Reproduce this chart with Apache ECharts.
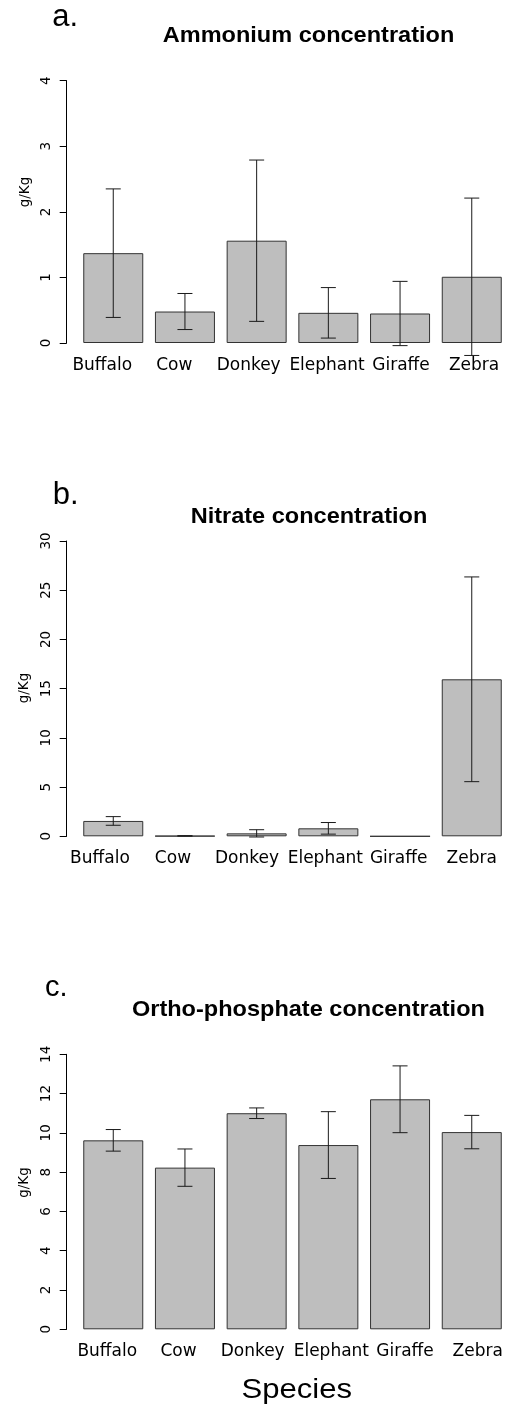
<!DOCTYPE html>
<html>
<head>
<meta charset="utf-8">
<script src="https://cdn.jsdelivr.net/npm/echarts@6/dist/echarts.min.js"></script>
<style>
html,body{margin:0;padding:0;background:#fff;}
#chart{width:506px;height:1408px;}
</style>
</head>
<body>
<div id="chart"></div>
<script>
// ---- data ----
const species = ['Buffalo', 'Cow', 'Donkey', 'Elephant', 'Giraffe', 'Zebra'];
const ammoniumMean = [1.37, 0.48, 1.56, 0.46, 0.45, 1.01];
const ammoniumErr  = [0.98, 0.275, 1.23, 0.385, 0.49, 1.2];
const nitrateMean  = [1.56, 0.04, 0.30, 0.81, 0.0, 15.95];
const nitrateErr   = [0.44, 0.02, 0.37, 0.59, 0.0, 10.4];
const phosphateMean = [9.62, 8.23, 11.0, 9.38, 11.71, 10.04];
const phosphateErr  = [0.55, 0.95, 0.27, 1.7, 1.7, 0.85];
const yTicksA = [0, 1, 2, 3, 4];
const yTicksB = [0, 5, 10, 15, 20, 25, 30];
const yTicksC = [0, 2, 4, 6, 8, 10, 12, 14];
const panelTitles = ['Ammonium concentration', 'Nitrate concentration', 'Ortho-phosphate concentration'];
const panelLetters = ['a.', 'b.', 'c.'];
const yName = 'g/Kg';
const xName = 'Species';

// ---- layout / style (not data) ----
const GRID_LEFT = 77.4, GRID_W = 430.2;
const panels = [
  {top: 80.7, height: 262.3, ticks: yTicksA, mean: ammoniumMean, err: ammoniumErr,
   labelShift: [-11, -10.7, -8, -1.3, 1, 2.3],
   letter: {x: 52.3, y: 17.5, size: 31}, title: {x: 308.5, y: 36}, yname: {x: 25.5, y: 192}},
  {top: 541, height: 295.3, ticks: yTicksB, mean: nitrateMean, err: nitrateErr,
   labelShift: [-13.3, -12, -9.7, -3, -1.4, 0],
   letter: {x: 52.7, y: 495.5, size: 31}, title: {x: 309, y: 517.3}, yname: {x: 24, y: 688}},
  {top: 1054.3, height: 275, ticks: yTicksC, mean: phosphateMean, err: phosphateErr,
   labelShift: [-6, -6.4, -4, 3, 5, 6],
   letter: {x: 45, y: 988, size: 29}, title: {x: 308.4, y: 1010.3}, yname: {x: 24, y: 1182.5}}
];
const FONT = 'DejaVu Sans';
const BAR_FILL = '#bebebe', BAR_EDGE = '#333333', ERR_COLOR = '#1a1a1a';

function errRender(params, api) {
  const x = api.value(0), lo = api.value(1), hi = api.value(2);
  if (hi - lo <= 0) return null;
  const a = api.coord([x, hi]), b = api.coord([x, lo]);
  const w = 7.5;
  const st = {stroke: ERR_COLOR, lineWidth: 1};
  return {type: 'group', children: [
    {type: 'line', shape: {x1: a[0], y1: a[1], x2: b[0], y2: b[1]}, style: st},
    {type: 'line', shape: {x1: a[0] - w, y1: a[1], x2: a[0] + w, y2: a[1]}, style: st},
    {type: 'line', shape: {x1: b[0] - w, y1: b[1], x2: b[0] + w, y2: b[1]}, style: st}
  ]};
}

const grids = [], xAxes = [], yAxes = [], series = [], graphics = [];
panels.forEach((p, k) => {
  grids.push({left: GRID_LEFT, width: GRID_W, top: p.top, height: p.height,
              containLabel: false, outerBoundsMode: 'none'});
  const rich = {};
  p.labelShift.forEach((dx, i) => {
    rich['s' + i] = {fontFamily: FONT, fontSize: 17, color: '#000',
      padding: [0, Math.max(0, -2 * dx), 0, Math.max(0, 2 * dx)]};
  });
  xAxes.push({type: 'category', gridIndex: k, data: species,
    axisLine: {show: false}, axisTick: {show: false}, splitLine: {show: false},
    axisLabel: {interval: 0, margin: 14, fontFamily: FONT, fontSize: 17, color: '#000',
      hideOverlap: false,
      formatter: (v, i) => '{s' + i + '|' + v + '}', rich: rich}});
  const t = p.ticks;
  yAxes.push({type: 'value', gridIndex: k, min: t[0], max: t[t.length - 1],
    interval: t[1] - t[0], offset: 10.7,
    axisLine: {show: true, lineStyle: {color: '#000', width: 1}},
    axisTick: {show: true, length: 7, lineStyle: {color: '#000', width: 1}},
    splitLine: {show: false},
    axisLabel: {rotate: 90, margin: 13, fontFamily: FONT, fontSize: 13.5, color: '#000'}});
  series.push({type: 'bar', xAxisIndex: k, yAxisIndex: k, data: p.mean, barWidth: 60,
    itemStyle: {color: BAR_FILL, borderColor: BAR_EDGE, borderWidth: 1},
    silent: true, animation: false});
  series.push({type: 'custom', xAxisIndex: k, yAxisIndex: k, clip: false,
    data: p.mean.map((m, i) => [i, m - p.err[i], m + p.err[i]]),
    renderItem: errRender, silent: true, animation: false, z: 5});
  graphics.push({type: 'text', x: p.letter.x, y: p.letter.y,
    style: {text: panelLetters[k], x: 0, y: 0, fontFamily: 'Liberation Sans', fontSize: p.letter.size,
      fill: '#000', align: 'left', verticalAlign: 'middle', textAlign: 'left', textVerticalAlign: 'middle'}});
  graphics.push({type: 'text', x: p.title.x, y: p.title.y, scaleX: 1.1,
    style: {text: panelTitles[k], x: 0, y: 0, fontFamily: 'Liberation Sans', fontWeight: 'bold',
      fontSize: 21.4, fill: '#000', align: 'center', verticalAlign: 'middle',
      textAlign: 'center', textVerticalAlign: 'middle'}});
  graphics.push({type: 'text', x: p.yname.x, y: p.yname.y, rotation: Math.PI / 2,
    style: {text: yName, x: 0, y: 0, fontFamily: FONT, fontSize: 13.5, fill: '#000',
      align: 'center', verticalAlign: 'middle', textAlign: 'center', textVerticalAlign: 'middle'}});
});
graphics.push({type: 'text', x: 296.7, y: 1390.3, scaleX: 1.15,
  style: {text: xName, x: 0, y: 0, fontFamily: 'Liberation Sans', fontSize: 27, fill: '#000',
    align: 'center', verticalAlign: 'middle', textAlign: 'center', textVerticalAlign: 'middle'}});

const chart = echarts.init(document.getElementById('chart'), null, {renderer: 'canvas'});
chart.setOption({
  backgroundColor: '#ffffff',
  animation: false,
  grid: grids, xAxis: xAxes, yAxis: yAxes, series: series, graphic: graphics
});
</script>
</body>
</html>
